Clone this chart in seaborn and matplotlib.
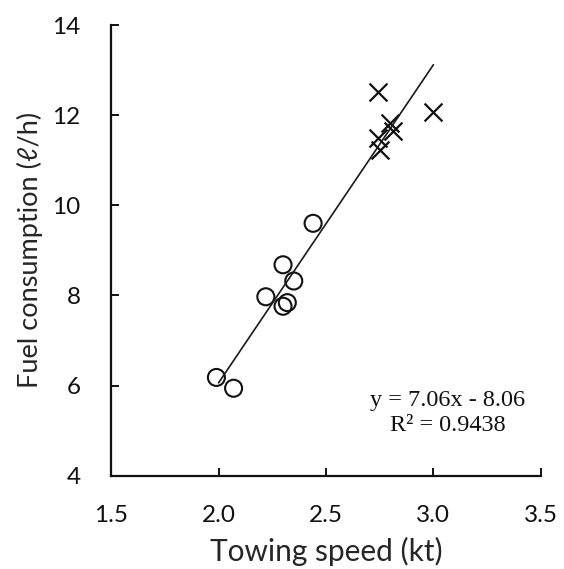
import matplotlib
matplotlib.use("Agg")
import matplotlib.pyplot as plt
import seaborn as sns
import pandas as pd
import numpy as np

# Data
circle_speed = [1.99, 2.07, 2.22, 2.30, 2.35, 2.30, 2.32, 2.44]
circle_fuel = [6.18, 5.94, 7.97, 8.68, 8.32, 7.76, 7.84, 9.60]
cross_speed = [2.74, 3.00, 2.80, 2.81, 2.74, 2.75]
cross_fuel = [12.52, 12.08, 11.82, 11.64, 11.50, 11.22]
slope = 7.06
intercept = -8.06
fit_range = [2.0, 3.0]
x_ticks = [1.5, 2.0, 2.5, 3.0, 3.5]
y_ticks = [4, 6, 8, 10, 12, 14]

sns.set_theme(style="ticks")
plt.rcParams['font.family'] = ['Lato', 'DejaVu Sans']

fig = plt.figure(figsize=(5.64, 5.69), dpi=100)
ax = fig.add_axes([0.197, 0.164, 0.762, 0.792])

df_c = pd.DataFrame({"speed": circle_speed, "fuel": circle_fuel})
df_x = pd.DataFrame({"speed": cross_speed, "fuel": cross_fuel})
fit_x = np.array(fit_range)
df_fit = pd.DataFrame({"speed": fit_x, "fuel": slope * fit_x + intercept})

sns.lineplot(data=df_fit, x="speed", y="fuel", color="#1a1a1a", lw=1.2, ax=ax)
sns.scatterplot(data=df_c, x="speed", y="fuel", marker="o", s=150,
                facecolor="none", edgecolor="#111111", linewidth=1.5, ax=ax)
sns.scatterplot(data=df_x, x="speed", y="fuel", marker="x", s=165,
                color="#111111", linewidth=1.6, ax=ax)

ax.set_xlim(1.5, 3.5)
ax.set_ylim(4, 14)
ax.set_xticks(x_ticks)
ax.set_xticklabels([f"{v:.1f}" for v in x_ticks])
ax.set_yticks(y_ticks)
ax.set_yticklabels([str(v) for v in y_ticks])
sns.despine(ax=ax)
for s in ["left", "bottom"]:
    ax.spines[s].set_linewidth(1.6)
    ax.spines[s].set_color("#111111")
ax.tick_params(axis="x", direction="in", length=5.5, width=1.4, labelsize=17.5, pad=21, colors="#111111")
ax.tick_params(axis="y", direction="in", length=5.5, width=1.4, labelsize=17.5, pad=22, colors="#111111")

ax.set_xlabel("Towing speed (kt)", fontsize=21.5, labelpad=8)
ax.set_ylabel("Fuel consumption (ℓ/h)", fontsize=19.5, labelpad=7)

ax.text(0.784, 0.139, f"y = {slope:.2f}x - {abs(intercept):.2f}\nR² = 0.9438",
        transform=ax.transAxes, ha="center", va="center", fontsize=17.5,
        family=["Liberation Serif", "DejaVu Serif"], linespacing=1.25, color="#111111")

fig.savefig("out.png", dpi=100)
